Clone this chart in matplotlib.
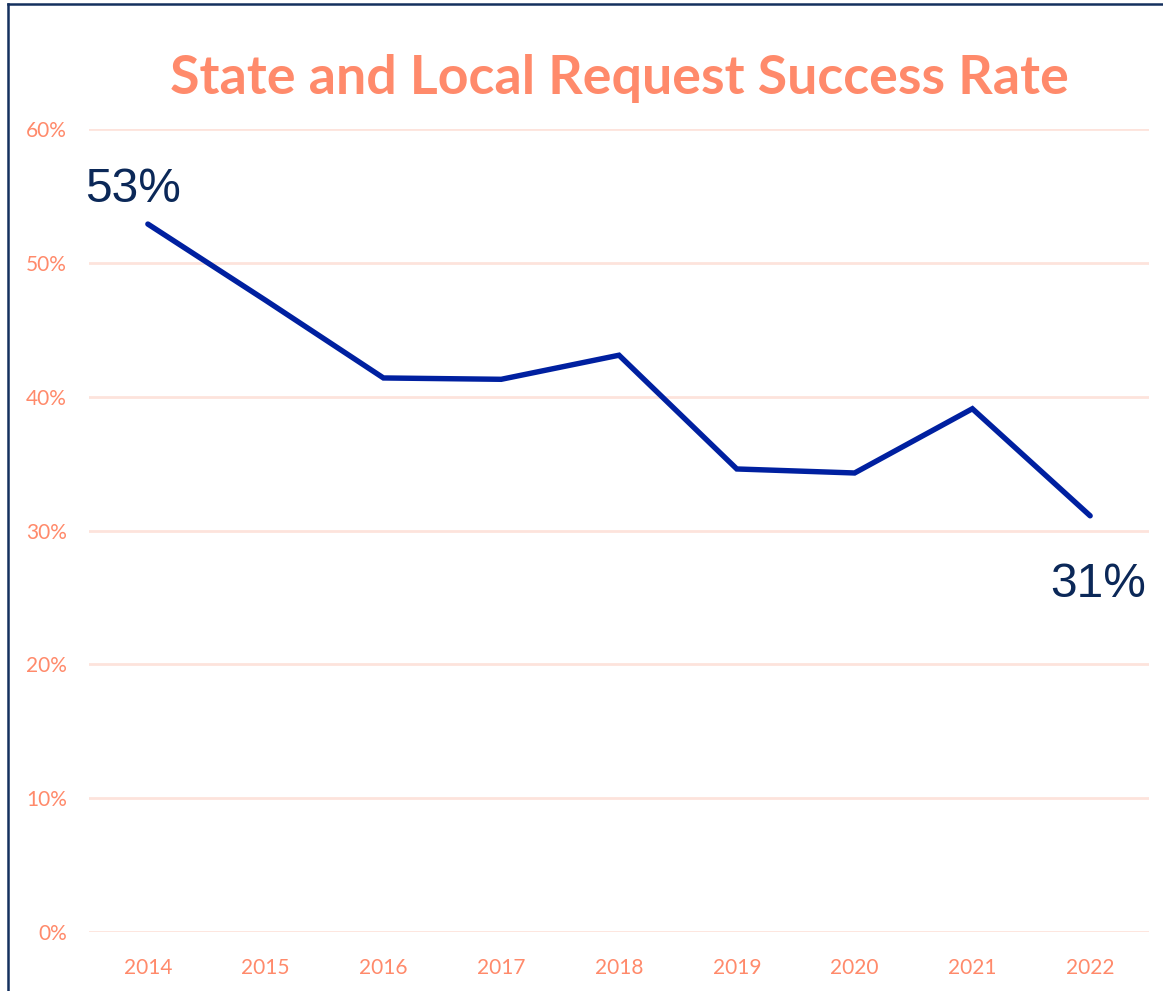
import matplotlib.pyplot as plt
from matplotlib.lines import Line2D

# datos
years = ['2014', '2015', '2016', '2017', '2018', '2019', '2020', '2021', '2022']
success_rate = [52.9, 47.2, 41.4, 41.3, 43.1, 34.6, 34.3, 39.1, 31.1]
y_ticks = [0, 10, 20, 30, 40, 50, 60]

salmon = '#FF8A6B'
navy = '#0B2858'
line_blue = '#0020A0'

fig = plt.figure(figsize=(11.63, 9.91), dpi=100)
ax = fig.add_axes([0.0765, 0.0595, 0.9115, 0.8103])

x = list(range(len(years)))
ax.plot(x, success_rate, color=line_blue, linewidth=3.9, solid_capstyle='round',
        solid_joinstyle='miter', zorder=3)

ax.set_xlim(-0.5, len(years) - 0.5)
ax.set_ylim(0, 60)
ax.set_yticks(y_ticks)
ax.set_yticklabels([f'{v}%' for v in y_ticks])
ax.set_xticks(x)
ax.set_xticklabels(years)
ax.tick_params(axis='both', length=0, colors=salmon, labelsize=15)
ax.tick_params(axis='y', pad=16)
ax.tick_params(axis='x', pad=19)
for lbl in ax.get_xticklabels() + ax.get_yticklabels():
    lbl.set_family('Lato')

ax.grid(axis='y', color='#FDE3DC', linewidth=2)
ax.set_axisbelow(True)
for s in ax.spines.values():
    s.set_visible(False)

# etiquetas del primer y ultimo punto
ax.annotate(f'{round(success_rate[0])}%', (x[0], success_rate[0]), xytext=(-11, 9),
            textcoords='offset points', ha='center', va='bottom',
            fontsize=34.5, color=navy, family='Liberation Sans')
ax.annotate(f'{round(success_rate[-1])}%', (x[-1], success_rate[-1]), xytext=(6, -33),
            textcoords='offset points', ha='center', va='top',
            fontsize=34.5, color=navy, family='Liberation Sans')

fig.text(0.533, 0.921, 'State and Local Request Success Rate', ha='center', va='center',
         fontsize=38.7, fontweight='bold', color=salmon, family='Lato')

# marco
fig.add_artist(Line2D([0.007, 0.007], [0, 0.996], color='#14305E', linewidth=1.8))
fig.add_artist(Line2D([0.007, 1.0], [0.996, 0.996], color='#14305E', linewidth=1.8))

fig.savefig('out.png', dpi=100)
